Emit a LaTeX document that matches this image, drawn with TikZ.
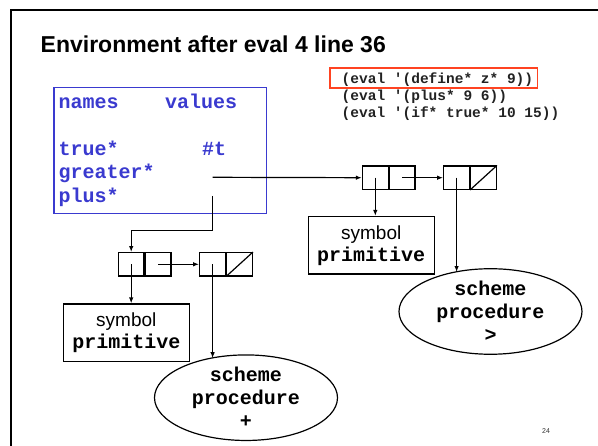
\documentclass[tikz,border=0pt]{standalone}
\usepackage{fontspec}
\setmainfont{Liberation Sans}
\setmonofont{Liberation Mono}
\usetikzlibrary{arrows.meta,positioning,shapes.geometric}
\definecolor{envblue}{HTML}{3A3ACF}
\definecolor{hilitered}{HTML}{FF4321}
\definecolor{inkgray}{HTML}{222222}
\tikzset{
  frameline/.style={black, line width=2pt},
  envbox/.style={draw=envblue, line width=1.5pt},
  envtext/.style={envblue, anchor=base west, inner sep=0pt, font=\fontsize{20}{23}\selectfont\ttfamily\bfseries},
  codeline/.style={inkgray, anchor=base west, inner sep=0pt, font=\fontsize{14.5}{17}\selectfont\ttfamily\bfseries},
  hilite/.style={draw=hilitered, line width=1.5pt},
  cell/.style={draw, line width=1.2pt, minimum width=25.7pt, minimum height=23.3pt, inner sep=0pt},
  ptr/.style={-{Latex[length=6pt,width=4.5pt]}, line width=1.2pt},
  symbox/.style={draw, line width=1.2pt, minimum width=126pt, minimum height=57.5pt, inner sep=0pt, align=center, font=\fontsize{19}{22}\selectfont},
  procnode/.style={draw, ellipse, line width=1.2pt, minimum width=183pt, minimum height=74.5pt, inner sep=0pt, align=center, font=\fontsize{20}{23}\selectfont\ttfamily\bfseries}
}

\begin{document}
\begin{tikzpicture}[x=1pt, y=-1pt]
  \useasboundingbox (0,0) rectangle (598,446);
  \draw[frameline] (11,447) -- (11,10) -- (599,10);
  \node[anchor=base west, inner sep=0pt, font=\fontsize{23}{27}\selectfont\bfseries] (title) at (40.5,53) {Environment after eval 4 line 36};

  \foreach \txt/\yy [count=\i] in {{(eval '(define* z* 9))}/83.5, {(eval '(plus* 9 6))}/100.5, {(eval '(if* true* 10 15))}/117.5}
    \node[codeline] (code\i) at (341.5,\yy) {\txt};
  \draw[hilite] (330,68) rectangle (537.7,88);

  \draw[envbox] (54,87.3) rectangle (266.7,213.3);
  \node[envtext] (hnames) at (58.5,108.5) {names};
  \node[envtext] (hvalues) at (165,108.5) {values};
  \foreach \nm/\yy [count=\i] in {true*/155.5, greater*/179, plus*/202.5}
    \node[envtext] (name\i) at (58.5,\yy) {\nm};
  \node[envtext] (tval) at (202,155.5) {\#t};
  \coordinate (greaterval) at (212.7,177.3);
  \coordinate (plusval) at (212.6,196);
  \coordinate (plusbend) at (212.6,230.5);

  \node[cell] (car1) at (375.3,177.7) {};
  \node[cell, right=0pt of car1] (cdr1) {};
  \node[cell] (car2) at (456.6,177.7) {};
  \node[cell, right=0pt of car2] (cdr2) {};
  \draw[line width=1.2pt] (cdr2.south west) -- (cdr2.north east);
  \node[symbox] (symR) at (371.2,245.3) {symbol\\{\fontsize{20}{22}\selectfont\ttfamily\bfseries primitive}};
  \node[procnode] (procR) at (490.5,311.5) {scheme\\procedure\\>};

  \node[cell] (lcar1) at (131.2,264.3) {};
  \node[cell, right=0pt of lcar1] (lcdr1) {};
  \node[cell] (lcar2) at (212.6,264.3) {};
  \node[cell, right=0pt of lcar2] (lcdr2) {};
  \draw[line width=1.2pt] (lcdr2.south west) -- (lcdr2.north east);
  \node[symbox] (symL) at (126.3,332.8) {symbol\\{\fontsize{20}{22}\selectfont\ttfamily\bfseries primitive}};
  \node[procnode] (procL) at (246,397.7) {scheme\\procedure\\+};

  \draw[ptr] (greaterval) -- (car1.west);
  \draw[ptr] (cdr1.center) -- (car2.west);
  \draw[ptr] (car1.center) -- (car1.center |- symR.north);
  \draw[ptr] (car2.center) -- (car2.center |- procR.134);
  \draw[ptr] (plusval) -- (plusbend) -| (lcar1.north);
  \draw[ptr] (lcdr1.center) -- (lcar2.west);
  \draw[ptr] (lcar1.center) -- (lcar1.center |- symL.north);
  \draw[ptr] (lcar2.center) -- (lcar2.center |- procL.134);

  \node[font=\fontsize{7}{8}\selectfont, text=black!80] (pagenum) at (546,431) {24};
\end{tikzpicture}
\end{document}
